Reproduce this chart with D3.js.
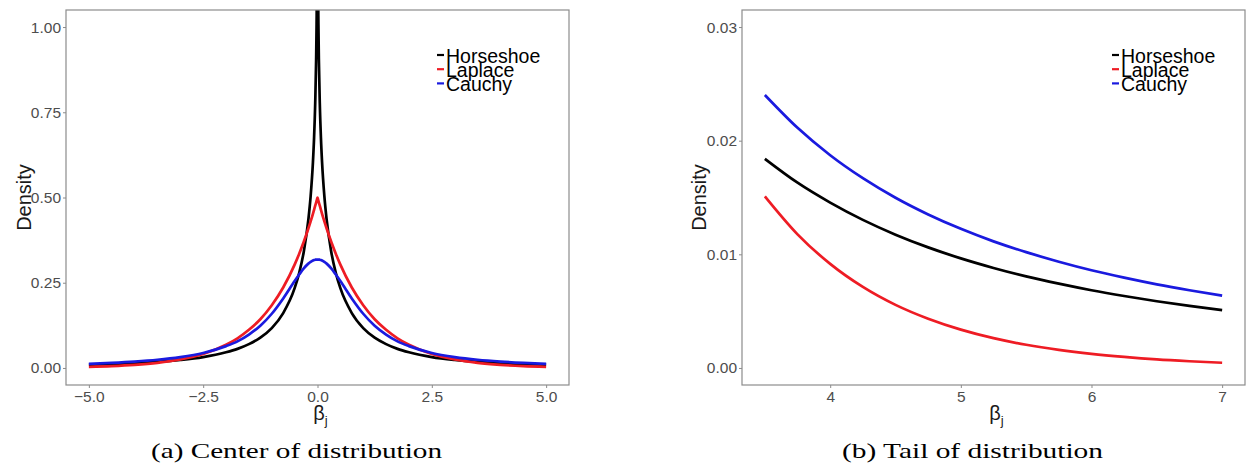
<!DOCTYPE html>
<html>
<head>
<meta charset="utf-8">
<script src="https://cdn.jsdelivr.net/npm/d3@7"></script>
<style>
  html, body { margin: 0; padding: 0; background: #fff; }
  .tick-label { font-family: "Liberation Sans", Arial, sans-serif; font-size: 15.5px; fill: #4d4d4d; }
  .axis-title { font-family: "Liberation Sans", Arial, sans-serif; fill: #1a1a1a; }
  .legend-text { font-family: "Liberation Sans", Arial, sans-serif; font-size: 19.5px; fill: #000; }
  .caption { font-family: "Liberation Serif", "DejaVu Serif", serif; font-size: 21.5px; fill: #000; }
</style>
</head>
<body>
<svg id="chart"></svg>
<script>
const size = { width: 1248, height: 468 };

const seriesNames = ["Horseshoe", "Laplace", "Cauchy"];

// (a) centre of the distribution
const centerBeta = [-5, -4.5, -4, -3.5, -3, -2.5, -2, -1.75, -1.5, -1.25, -1, -0.75, -0.5, -0.4, -0.3, -0.2, -0.15, -0.1, -0.075, -0.05, -0.03, -0.02, -0.01, 0,
  0.01, 0.02, 0.03, 0.05, 0.075, 0.1, 0.15, 0.2, 0.3, 0.4, 0.5, 0.75, 1, 1.25, 1.5, 1.75, 2, 2.5, 3, 3.5, 4, 4.5, 5];
const centerHorseshoe = [0.0095, 0.0115, 0.0143, 0.0181, 0.0237, 0.032, 0.046, 0.056, 0.070, 0.089, 0.117, 0.161, 0.234, 0.279, 0.341, 0.435, 0.504, 0.603, 0.675, 0.777, 0.905, 1.008, 1.184, 1.6,
  1.184, 1.008, 0.905, 0.777, 0.675, 0.603, 0.504, 0.435, 0.341, 0.279, 0.234, 0.161, 0.117, 0.089, 0.070, 0.056, 0.046, 0.032, 0.0237, 0.0181, 0.0143, 0.0115, 0.0095];
const centerLaplace = [0.0034, 0.0056, 0.0092, 0.0151, 0.025, 0.041, 0.068, 0.087, 0.112, 0.143, 0.184, 0.236, 0.303, 0.335, 0.370, 0.409, 0.430, 0.452, 0.464, 0.476, 0.485, 0.490, 0.495, 0.5,
  0.495, 0.490, 0.485, 0.476, 0.464, 0.452, 0.430, 0.409, 0.370, 0.335, 0.303, 0.236, 0.184, 0.143, 0.112, 0.087, 0.068, 0.041, 0.025, 0.0151, 0.0092, 0.0056, 0.0034];
const centerCauchy = [0.0122, 0.015, 0.0187, 0.024, 0.032, 0.044, 0.064, 0.078, 0.098, 0.124, 0.159, 0.204, 0.255, 0.274, 0.292, 0.306, 0.311, 0.315, 0.3165, 0.3175, 0.318, 0.318, 0.318, 0.318,
  0.318, 0.318, 0.318, 0.3175, 0.3165, 0.315, 0.311, 0.306, 0.292, 0.274, 0.255, 0.204, 0.159, 0.124, 0.098, 0.078, 0.064, 0.044, 0.032, 0.024, 0.0187, 0.015, 0.0122];
const centerXTicks = [-5, -2.5, 0, 2.5, 5];
const centerYTicks = [0, 0.25, 0.5, 0.75, 1];

// (b) tail of the distribution
const tailBeta = [3.5, 3.75, 4, 4.25, 4.5, 4.75, 5, 5.25, 5.5, 5.75, 6, 6.25, 6.5, 6.75, 7];
const tailHorseshoe = [0.0184, 0.0163, 0.01455, 0.01303, 0.01173, 0.01061, 0.00964, 0.0088, 0.00806, 0.00742, 0.00684, 0.00633, 0.00587, 0.00546, 0.00509];
const tailLaplace = [0.0151, 0.01176, 0.00916, 0.00713, 0.00555, 0.00433, 0.00337, 0.00262, 0.00204, 0.00159, 0.00124, 0.00097, 0.00075, 0.00059, 0.00046];
const tailCauchy = [0.02402, 0.02113, 0.01872, 0.0167, 0.01498, 0.01351, 0.01224, 0.01114, 0.01019, 0.00935, 0.0086, 0.00795, 0.00736, 0.00684, 0.00637];
const tailXTicks = [4, 5, 6, 7];
const tailYTicks = [0, 0.01, 0.02, 0.03];

const color = d3.scaleOrdinal().domain(seriesNames).range(["#000000", "#ee1c24", "#1a1adf"]);

const svg = d3.select("#chart").attr("width", size.width).attr("height", size.height);

const drawPanel = (cfg) => {
  const { left, right, top, bottom } = cfg.box;

  const x = d3.scaleLinear().domain(cfg.xDomain).range([left, right]);
  const y = d3.scaleLinear().domain(cfg.yDomain).range([bottom, top]);

  const g = svg.append("g");

  g.append("clipPath")
    .attr("id", cfg.id + "clip")
    .append("rect")
    .attr("x", left)
    .attr("y", top)
    .attr("width", right - left)
    .attr("height", bottom - top);

  // y axis ticks + labels
  const yAxis = d3.axisLeft(y).tickValues(cfg.yTicks).tickFormat(cfg.yFormat).tickSize(3).tickPadding(2);
  const ya = g.append("g").attr("transform", `translate(${left},0)`).call(yAxis);
  ya.select(".domain").remove();
  ya.selectAll("line").attr("stroke", "#8c8c8c");
  ya.selectAll("text").attr("class", "tick-label").attr("font-size", null).attr("font-family", null).attr("fill", null);

  const xAxis = d3.axisBottom(x).tickValues(cfg.xTicks).tickFormat(cfg.xFormat).tickSize(3).tickPadding(3);
  const xa = g.append("g").attr("transform", `translate(0,${bottom})`).call(xAxis);
  xa.select(".domain").remove();
  xa.selectAll("line").attr("stroke", "#8c8c8c");
  xa.selectAll("text").attr("class", "tick-label").attr("font-size", null).attr("font-family", null).attr("fill", null);

  // curves
  const line = d3
    .line()
    .x((d) => x(d[0]))
    .y((d) => y(d[1]))
    .curve(d3.curveMonotoneX);

  g.append("g")
    .attr("clip-path", `url(#${cfg.id}clip)`)
    .attr("fill", "none")
    .attr("stroke-width", 2.7)
    .attr("stroke-linejoin", "round")
    .selectAll("path")
    .data(cfg.series)
    .enter()
    .append("path")
    .attr("stroke", (d) => color(d.name))
    .attr("d", (d) => line(d3.zip(cfg.beta, d.values)));

  // panel border
  g.append("rect")
    .attr("x", left)
    .attr("y", top)
    .attr("width", right - left)
    .attr("height", bottom - top)
    .attr("fill", "none")
    .attr("stroke", "#8c8c8c")
    .attr("stroke-width", 1.2);

  // axis titles
  g.append("text")
    .attr("class", "axis-title")
    .attr("font-size", 20)
    .attr("text-anchor", "middle")
    .attr("transform", `translate(${cfg.yTitleX},${(top + bottom) / 2}) rotate(-90)`)
    .text("Density");

  const bt = g.append("text")
    .attr("class", "axis-title")
    .attr("font-size", 20)
    .attr("text-anchor", "middle")
    .attr("x", (left + right) / 2 + 3)
    .attr("y", 420);
  bt.append("tspan").text("β");
  bt.append("tspan").attr("font-size", 13).attr("dy", 5).text("j");

  // legend (entries overlap slightly, as in the original)
  const legend = g.append("g").attr("transform", `translate(${cfg.legendX},63)`);
  seriesNames.forEach((name, i) => {
    legend.append("line")
      .attr("x1", 0)
      .attr("x2", 7)
      .attr("y1", i * 14.2 - 8)
      .attr("y2", i * 14.2 - 8)
      .attr("stroke", color(name))
      .attr("stroke-width", 2.2);
    legend.append("text")
      .attr("class", "legend-text")
      .attr("x", 9)
      .attr("y", i * 14.2)
      .text(name);
  });

  // caption
  g.append("text")
    .attr("class", "caption")
    .attr("x", cfg.caption.x)
    .attr("y", 458)
    .attr("textLength", cfg.caption.width)
    .attr("lengthAdjust", "spacingAndGlyphs")
    .text(cfg.caption.text);
};

drawPanel({
  id: "center",
  box: { left: 66, right: 569, top: 10, bottom: 385 },
  xDomain: [-5.5, 5.5],
  yDomain: [-0.05, 1.05],
  xTicks: centerXTicks,
  yTicks: centerYTicks,
  xFormat: d3.format(".1f"),
  yFormat: d3.format(".2f"),
  beta: centerBeta,
  series: [
    { name: "Horseshoe", values: centerHorseshoe },
    { name: "Laplace", values: centerLaplace },
    { name: "Cauchy", values: centerCauchy },
  ],
  yTitleX: 31,
  legendX: 437,
  caption: { x: 151, width: 291, text: "(a) Center of distribution" },
});

drawPanel({
  id: "tail",
  box: { left: 742, right: 1245, top: 10, bottom: 385 },
  xDomain: [3.325, 7.175],
  yDomain: [-0.0015, 0.0315],
  xTicks: tailXTicks,
  yTicks: tailYTicks,
  xFormat: d3.format("d"),
  yFormat: d3.format(".2f"),
  beta: tailBeta,
  series: [
    { name: "Horseshoe", values: tailHorseshoe },
    { name: "Laplace", values: tailLaplace },
    { name: "Cauchy", values: tailCauchy },
  ],
  yTitleX: 706,
  legendX: 1112,
  caption: { x: 842, width: 261, text: "(b) Tail of distribution" },
});
</script>
</body>
</html>
